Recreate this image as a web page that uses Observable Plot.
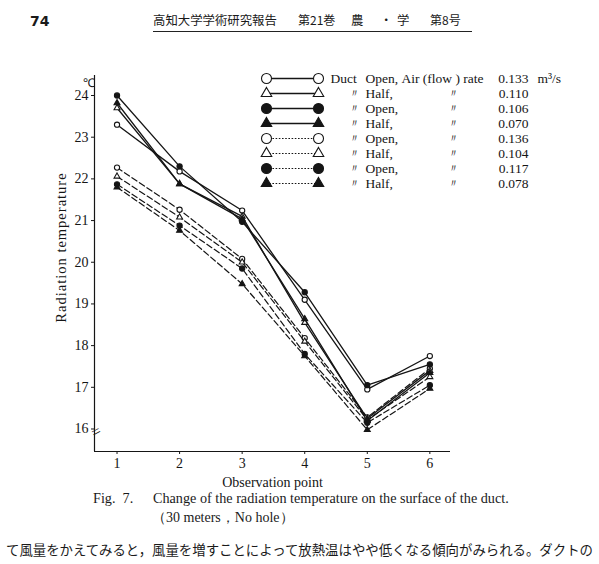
<!DOCTYPE html>
<html><head><meta charset="utf-8">
<script src="https://cdn.jsdelivr.net/npm/d3@7"></script>
<script src="https://cdn.jsdelivr.net/npm/@observablehq/plot@0.6"></script>
<style>
body{margin:0;background:#fff;width:599px;height:564px;overflow:hidden;position:relative;font-family:"Liberation Serif",serif;color:#1a1a1a}
.abs{position:absolute;white-space:nowrap;line-height:1}
.jp{font-family:"Noto Sans CJK JP",sans-serif}
</style></head><body>
<div id="chart" class="abs" style="left:0;top:0"></div>
<div id="legend" class="abs" style="left:250px;top:68px"></div>

<div class="abs" style="left:30px;top:13px;font:bold 14px 'DejaVu Sans',sans-serif">74</div>
<div class="abs jp" style="left:153px;top:14px;font-size:12.4px">高知大学学術研究報告</div>
<div class="abs jp" style="left:298px;top:14px;font-size:12px">第21巻</div>
<div class="abs jp" style="left:351px;top:14px;font-size:12.4px">農</div>
<div class="abs jp" style="left:380px;top:14px;font-size:12.4px">・</div>
<div class="abs jp" style="left:397px;top:14px;font-size:12.4px">学</div>
<div class="abs jp" style="left:430px;top:14px;font-size:12px">第8号</div>
<div class="abs" style="left:153px;top:31px;width:319px;border-top:1px solid #222"></div>

<div class="abs" style="left:93px;top:491px;font-size:14.2px">Fig.&nbsp; 7.</div>
<div class="abs" style="left:153px;top:491px;font-size:14.2px">Change of the radiation temperature on the surface of the duct.</div>
<div class="abs" style="left:152px;top:511px;font-size:14px">（30 meters，No hole）</div>
<div class="abs jp" style="left:6px;top:543px;font-size:13.4px">て風量をかえてみると，風量を増すことによって放熱温はやや低くなる傾向がみられる。ダクトの</div>

<script>
// ---- data ----
const points = [1, 2, 3, 4, 5, 6];
const yTicks = [16, 17, 18, 19, 20, 21, 22, 23, 24];
const xDomain = [0.64, 6.33];
const yDomain = [15.46, 24.48];

const seriesDuct   = ["Open", "Half", "Open", "Half", "Open", "Half", "Open", "Half"];
const seriesRate   = ["0.133", "0.110", "0.106", "0.070", "0.136", "0.104", "0.117", "0.078"];
const seriesMarker = ["circle", "triangle", "circle", "triangle", "circle", "triangle", "circle", "triangle"];
const seriesFilled = [false, false, true, true, false, false, true, true];
const seriesDashed = [false, false, false, false, true, true, true, true];

const temp0133 = [23.30, 22.18, 21.24, 19.10, 16.95, 17.75];
const temp0110 = [23.70, 21.88, 21.10, 18.55, 16.25, 17.40];
const temp0106 = [24.00, 22.30, 20.97, 19.28, 17.05, 17.55];
const temp0070 = [23.82, 21.88, 21.04, 18.64, 16.20, 17.35];
const temp0136 = [22.27, 21.26, 20.08, 18.18, 16.28, 17.45];
const temp0104 = [22.06, 21.08, 20.00, 18.10, 16.22, 17.25];
const temp0117 = [21.87, 20.88, 19.85, 17.80, 16.15, 17.05];
const temp0078 = [21.80, 20.76, 19.48, 17.75, 15.98, 16.97];
const seriesTemps = [temp0133, temp0110, temp0106, temp0070, temp0136, temp0104, temp0117, temp0078];

// ---- tables ----
const rows = [];
seriesTemps.forEach((vals, s) => vals.forEach((v, i) => rows.push({
  series: s, point: points[i], temp: v,
  marker: seriesMarker[s], filled: seriesFilled[s], dashed: seriesDashed[s]
})));
const legendRows = seriesRate.map((rate, i) => ({
  key: i, rate, duct: seriesDuct[i], marker: seriesMarker[i], filled: seriesFilled[i], dashed: seriesDashed[i]
}));

const INK = "#151515";
function dotMarks(data, opts, r, rTri) {
  const out = [];
  for (const m of ["circle", "triangle"]) for (const f of [false, true]) {
    out.push(Plot.dot(data.filter(d => d.marker === m && d.filled === f), {
      ...opts, symbol: m, r: m === "triangle" ? rTri : r,
      fill: f ? INK : "white", stroke: INK, strokeWidth: 1.1
    }));
  }
  return out;
}

const chart = Plot.plot({
  width: 599, height: 490,
  marginLeft: 94, marginRight: 149, marginTop: 75, marginBottom: 39,
  style: {fontFamily: "'Liberation Serif', serif", fontSize: "14px", color: INK, background: "transparent"},
  x: {domain: xDomain},
  y: {domain: yDomain},
  marks: [
    Plot.axisX({ticks: points, tickSize: 3, tickPadding: 4, tickFormat: d => String(d),
      label: "Observation point", labelAnchor: "center", labelArrow: "none", labelOffset: 35, fontSize: 14}),
    Plot.axisY({ticks: yTicks, tickSize: 3, tickPadding: 3, tickFormat: d => String(d), label: null, fontSize: 14}),
    Plot.ruleX([xDomain[0]], {stroke: INK, strokeWidth: 1.2}),
    Plot.ruleY([yDomain[0]], {stroke: INK, strokeWidth: 1.2}),
    Plot.text(["="], {frameAnchor: "bottom-left", dy: -13, rotate: -28, fontSize: 16, fill: INK}),
    Plot.text(["℃"], {frameAnchor: "top-left", dx: -12, dy: 3, fontSize: 12, fill: INK}),
    Plot.text(["Radiation temperature"], {frameAnchor: "left", textAnchor: "middle", rotate: -90, dx: -33, dy: -16, fontSize: 14.5, fill: INK, style: "letter-spacing:1px"}),
    Plot.line(rows.filter(d => !d.dashed), {x: "point", y: "temp", z: "series", stroke: INK, strokeWidth: 1.3}),
    Plot.line(rows.filter(d => d.dashed), {x: "point", y: "temp", z: "series", stroke: INK, strokeWidth: 1.2, strokeDasharray: "6,3"}),
    ...dotMarks(rows, {x: "point", y: "temp"}, 2.6, 2.2)
  ]
});
document.getElementById("chart").appendChild(chart);
// letter spacing for the rotated y title
d3.select(chart).selectAll("text").filter(function(){ return this.textContent === "Radiation temperature"; }).style("letter-spacing", "1px");

const LW = 330;
const legend = Plot.plot({
  width: LW, height: 125, marginTop: 8.7, marginBottom: 8.7, marginLeft: 0, marginRight: 0,
  style: {fontFamily: "'Liberation Serif', serif", fontSize: "13.5px", color: INK, background: "transparent"},
  y: {type: "point", padding: 0, domain: legendRows.map(d => d.key), axis: null},
  marks: [
    Plot.ruleY(legendRows.filter(d => !d.dashed), {y: "key", insetLeft: 16, insetRight: LW - 68, stroke: INK, strokeWidth: 1.3}),
    Plot.ruleY(legendRows.filter(d => d.dashed), {y: "key", insetLeft: 16, insetRight: LW - 68, stroke: INK, strokeWidth: 1, strokeDasharray: "1.6,1.6"}),
    ...dotMarks(legendRows, {y: "key", frameAnchor: "left", dx: 16}, 5, 3.9),
    ...dotMarks(legendRows, {y: "key", frameAnchor: "left", dx: 68}, 5, 3.9),
    Plot.text(legendRows.slice(0, 1), {y: "key", frameAnchor: "left", dx: 80, text: () => "Duct", textAnchor: "start", fill: INK}),
    Plot.text(legendRows.slice(1), {y: "key", frameAnchor: "left", dx: 98, text: () => "〃", fontSize: 11, fill: INK}),
    Plot.text(legendRows, {y: "key", frameAnchor: "left", dx: 115, text: d => d.duct + ",", textAnchor: "start", fill: INK}),
    Plot.text(legendRows.slice(0, 1), {y: "key", frameAnchor: "left", dx: 151, text: () => "Air (flow ) rate", textAnchor: "start", fill: INK}),
    Plot.text(legendRows.slice(1), {y: "key", frameAnchor: "left", dx: 197, text: () => "〃", fontSize: 11, fill: INK}),
    Plot.text(legendRows, {y: "key", frameAnchor: "left", dx: 278, text: "rate", textAnchor: "end", fill: INK}),
    Plot.text(legendRows.slice(0, 1), {y: "key", frameAnchor: "left", dx: 287, text: () => "m³/s", textAnchor: "start", fill: INK})
  ]
});
document.getElementById("legend").appendChild(legend);
</script>
</body></html>
